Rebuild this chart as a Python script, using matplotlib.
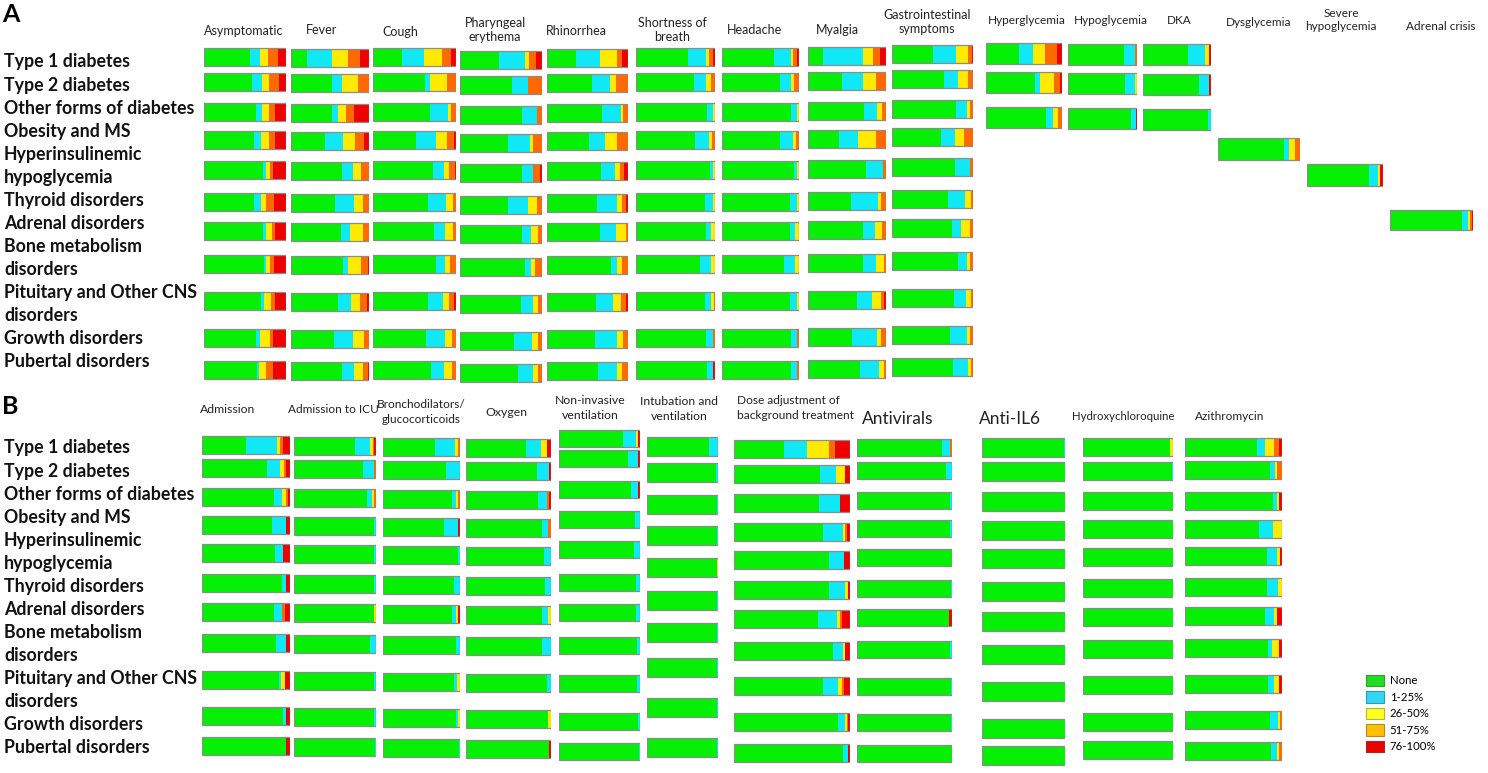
import numpy as np
import matplotlib
matplotlib.use("Agg")
import matplotlib.pyplot as plt
from matplotlib.patches import Patch

plt.rcParams['font.family'] = ['Lato', 'DejaVu Sans']

# Categorias (filas)
row_lines = ['Type 1 diabetes', 'Type 2 diabetes', 'Other forms of diabetes', 'Obesity and MS',
             'Hyperinsulinemic', 'hypoglycemia', 'Thyroid disorders', 'Adrenal disorders',
             'Bone metabolism', 'disorders', 'Pituitary and Other CNS', 'disorders',
             'Growth disorders', 'Pubertal disorders']
levels = ['None', '1-25%', '26-50%', '51-75%', '76-100%']
bar_colors = ['#05F005', '#10E8F5', '#FFEA00', '#FF6A00', '#EE0000']
legend_colors = ['#22DD22', '#33D6F0', '#FFFF22', '#FFC000', '#EE0000']
legend_edges = ['#2f9f2f', '#3399bb', '#b5b533', '#b58a2a', '#a02a2a']

# ---- Panel A: sintomas (None, 1-25, 26-50, 51-75, 76-100) ----
asymptomatic = [[56, 12, 10, 12, 10], [59, 12, 8, 12, 9], [64, 7, 8, 8, 13], [61, 8, 10, 7, 14],
                [72, 4, 4, 4, 16], [61, 8, 7, 9, 15], [72, 4, 7, 4, 13], [73, 3, 4, 5, 15],
                [69, 4, 9, 5, 13], [63, 5, 12, 4, 16], [65, 2, 8, 9, 16]]
fever = [[21, 31, 21, 16, 11], [52, 14, 20, 14, 0], [53, 7, 11, 10, 19], [43, 24, 15, 11, 7],
         [65, 14, 11, 10, 0], [57, 24, 11, 8, 0], [64, 11, 17, 8, 0], [67, 6, 17, 9, 1],
         [60, 17, 11, 9, 3], [55, 25, 14, 6, 0], [66, 15, 11, 7, 1]]
cough = [[35, 26, 22, 11, 6], [63, 6, 20, 11, 0], [69, 21, 4, 6, 0], [52, 24, 13, 8, 3],
         [72, 14, 6, 7, 1], [66, 22, 8, 4, 0], [73, 14, 9, 4, 0], [76, 11, 6, 7, 0],
         [66, 18, 8, 5, 3], [64, 23, 8, 5, 0], [70, 16, 9, 5, 0]]
pharyngeal = [[48, 31, 5, 9, 7], [63, 20, 0, 17, 0], [75, 19, 0, 6, 0], [59, 26, 4, 11, 0],
              [75, 14, 0, 8, 3], [59, 24, 11, 6, 0], [75, 12, 8, 5, 0], [79, 7, 6, 8, 0],
              [74, 15, 6, 5, 0], [66, 22, 7, 5, 0], [71, 18, 6, 5, 0]]
rhinorrhea = [[36, 29, 21, 7, 7], [55, 23, 7, 15, 0], [68, 23, 3, 6, 0], [52, 20, 14, 14, 0],
              [67, 17, 6, 5, 5], [62, 24, 6, 5, 3], [66, 19, 12, 3, 0], [79, 7, 6, 8, 0],
              [60, 21, 10, 6, 3], [59, 27, 8, 6, 0], [63, 23, 7, 7, 0]]
breath = [[66, 22, 4, 6, 2], [74, 15, 6, 5, 0], [90, 7, 3, 0, 0], [75, 18, 3, 4, 0],
          [94, 4, 2, 0, 0], [87, 11, 2, 0, 0], [89, 6, 5, 0, 0], [81, 14, 5, 0, 0],
          [87, 8, 4, 1, 0], [89, 8, 0, 3, 0], [90, 7, 0, 1, 2]]
headache = [[67, 22, 3, 5, 3], [75, 14, 5, 6, 0], [90, 7, 3, 0, 0], [75, 17, 4, 4, 0],
            [94, 4, 2, 0, 0], [88, 10, 2, 0, 0], [88, 7, 5, 0, 0], [81, 14, 5, 0, 0],
            [88, 9, 3, 0, 0], [89, 8, 0, 3, 0], [90, 7, 0, 3, 0]]
myalgia = [[19, 52, 12, 9, 8], [44, 26, 17, 13, 0], [72, 16, 7, 5, 0], [40, 24, 23, 13, 0],
           [74, 22, 0, 4, 0], [55, 35, 4, 6, 0], [70, 16, 9, 5, 0], [71, 16, 10, 3, 0],
           [63, 19, 12, 3, 3], [57, 31, 6, 6, 0], [67, 24, 6, 3, 0]]
gastro = [[50, 29, 15, 5, 1], [64, 17, 13, 6, 0], [79, 14, 3, 4, 0], [60, 18, 11, 11, 0],
          [78, 18, 0, 4, 0], [69, 21, 8, 2, 0], [74, 11, 11, 4, 0], [82, 11, 3, 4, 0],
          [77, 14, 6, 3, 0], [72, 21, 3, 4, 0], [75, 19, 3, 3, 0]]
hyperglycemia = [[44, 18, 15, 17, 6], [64, 7, 18, 9, 2], [79, 9, 7, 5, 0]]
hypoglycemia = [[81, 16, 0, 3, 0], [82, 15, 3, 0, 0], [91, 7, 0, 0, 2]]
dka = [[66, 25, 6, 0, 3], [82, 15, 0, 0, 3], [96, 4, 0, 0, 0]]
dysglycemia = [[80, 7, 7, 6, 0]]
severe_hypo = [[82, 11, 3, 0, 4]]
adrenal_crisis = [[87, 7, 2, 3, 1]]

# ---- Panel B: tratamiento ----
admission = [[50, 35, 4, 3, 8], [74, 15, 4, 2, 5], [82, 9, 4, 3, 2], [80, 16, 0, 0, 4],
             [83, 9, 0, 0, 8], [91, 5, 0, 0, 4], [82, 9, 0, 3, 6], [84, 12, 0, 0, 4],
             [88, 2, 4, 0, 6], [92, 4, 0, 0, 4], [95, 0, 0, 0, 5]]
icu = [[74, 19, 3, 2, 2], [84, 13, 0, 3, 0], [89, 6, 2, 3, 0], [97, 3, 0, 0, 0],
       [98, 2, 0, 0, 0], [97, 3, 0, 0, 0], [97, 1, 2, 0, 0], [93, 7, 0, 0, 0],
       [97, 3, 0, 0, 0], [98, 2, 0, 0, 0], [99, 1, 0, 0, 0]]
broncho = [[67, 26, 5, 2, 0], [82, 18, 0, 0, 0], [90, 5, 3, 2, 0], [79, 18, 0, 0, 3],
           [97, 3, 0, 0, 0], [92, 8, 0, 0, 0], [90, 5, 2, 0, 3], [95, 5, 0, 0, 0],
           [92, 4, 4, 0, 0], [95, 2, 3, 0, 0], [99, 1, 0, 0, 0]]
oxygen = [[71, 17, 7, 0, 5], [83, 15, 0, 0, 2], [85, 10, 0, 3, 2], [89, 8, 0, 3, 0],
          [92, 8, 0, 0, 0], [93, 7, 0, 0, 0], [89, 8, 3, 0, 0], [89, 11, 0, 0, 0],
          [95, 5, 0, 0, 0], [96, 1, 3, 0, 0], [98, 0, 0, 0, 2]]
niv = [[79, 16, 2, 0, 3], [85, 12, 0, 0, 3], [89, 8, 0, 0, 3], [94, 6, 0, 0, 0],
       [92, 8, 0, 0, 0], [95, 5, 0, 0, 0], [95, 5, 0, 0, 0], [96, 4, 0, 0, 0],
       [96, 4, 0, 0, 0], [97, 3, 0, 0, 0], [99, 1, 0, 0, 0]]
intubation = [[87, 13, 0, 0, 0], [97, 3, 0, 0, 0], [98, 2, 0, 0, 0], [98, 2, 0, 0, 0],
              [98, 1, 1, 0, 0], [98, 2, 0, 0, 0], [99, 1, 0, 0, 0], [99, 1, 0, 0, 0],
              [98, 2, 0, 0, 0], [98, 2, 0, 0, 0]]
dose = [[43, 20, 19, 5, 13], [74, 14, 8, 0, 4], [73, 18, 0, 0, 9], [77, 17, 2, 1, 3],
        [82, 13, 0, 0, 5], [82, 14, 2, 0, 2], [72, 17, 2, 2, 7], [85, 9, 2, 0, 4],
        [77, 13, 3, 2, 5], [90, 6, 1, 1, 2], [94, 4, 0, 0, 2]]
antivirals = [[89, 9, 0, 2, 0], [94, 6, 0, 0, 0], [98, 2, 0, 0, 0], [98, 2, 0, 0, 0],
              [100, 0, 0, 0, 0], [99, 1, 0, 0, 0], [97, 0, 0, 0, 3], [98, 2, 0, 0, 0],
              [99, 1, 0, 0, 0], [99, 1, 0, 0, 0], [100, 0, 0, 0, 0]]
anti_il6 = [[99, 1, 0, 0, 0]] + [[100, 0, 0, 0, 0]] * 10
hydroxy = [[97, 0, 3, 0, 0], [99, 1, 0, 0, 0]] + [[100, 0, 0, 0, 0]] * 9
azithro = [[74, 8, 10, 5, 3], [88, 5, 2, 5, 0], [91, 4, 2, 0, 3], [76, 15, 9, 0, 0],
           [85, 10, 3, 0, 2], [85, 11, 4, 0, 0], [82, 10, 3, 0, 5], [86, 4, 7, 0, 3],
           [86, 6, 5, 0, 3], [88, 8, 2, 2, 0], [89, 6, 2, 3, 0]]

# ---- layout (pixeles de la figura) ----
W, H = 1488, 773
rows_a = np.array([57, 82, 112, 140, 170, 202, 231, 264, 301, 338, 370])
rows_b = np.array([445, 468, 497, 525, 553, 583, 612, 643, 680, 716, 746])

# (titulo, datos, x0, x1, filas_y, alto, titulo_x, titulo_y, alineacion, tamano)
cols_a = [
    ('Asymptomatic', asymptomatic, 204, 286, rows_a, 18, 204, 31, 'left', 9),
    ('Fever', fever, 291, 369, rows_a + 1, 18, 322, 30, 'center', 9),
    ('Cough', cough, 373, 456, rows_a, 18, 400, 32, 'center', 9),
    ('Pharyngeal\nerythema', pharyngeal, 460, 542, rows_a + 3, 18, 495, 30, 'center', 9),
    ('Rhinorrhea', rhinorrhea, 547, 628, rows_a + 1, 18, 576, 31, 'center', 9),
    ('Shortness of\nbreath', breath, 636, 715, rows_a, 18, 672, 30, 'center', 9),
    ('Headache', headache, 722, 799, rows_a, 18, 754, 30, 'center', 9),
    ('Myalgia', myalgia, 808, 886, rows_a - 1, 18, 837, 30, 'center', 9),
    ('Gastrointestinal\nsymptoms', gastro, 892, 973, rows_a - 3, 18, 927, 22, 'center', 9),
    ('Hyperglycemia', hyperglycemia, 986, 1062, [53, 82, 117], 21, 1027, 21, 'center', 8.5),
    ('Hypoglycemia', hypoglycemia, 1068, 1137, [54, 83, 118], 21, 1111, 21, 'center', 8.5),
    ('DKA', dka, 1143, 1211, [54, 84, 119], 21, 1179, 21, 'center', 8.5),
    ('Dysglycemia', dysglycemia, 1218, 1300, [149], 22, 1259, 22, 'center', 8.5),
    ('Severe\nhypoglycemia', severe_hypo, 1307, 1383, [175], 22, 1341, 20, 'center', 8.5),
    ('Adrenal crisis', adrenal_crisis, 1390, 1473, [220], 20, 1441, 27, 'center', 8.5),
]
cols_b = [
    ('Admission', admission, 202, 290, rows_b, 18, 228, 410, 'center', 8.8),
    ('Admission to ICU', icu, 294, 376, rows_b + 1, 18, 333, 410, 'center', 8.6),
    ('Bronchodilators/\nglucocorticoids', broncho, 383, 460, rows_b + 2, 18, 421, 412, 'center', 8.6),
    ('Oxygen', oxygen, 466, 551, rows_b + 3, 18, 506, 412, 'center', 8.8),
    ('Non-invasive\nventilation', niv, 559, 640,
     [438, 458, 489, 519, 549, 582, 612, 645, 683, 721, 751], 17, 590, 408, 'center', 8.8),
    ('Intubation and\nventilation', intubation, 647, 718,
     [446, 472, 504, 535, 567, 600, 632, 667, 707, 747], 19, 679, 409, 'center', 8.8),
    ('Dose adjustment of\nbackground treatment', dose, 734, 850,
     [449, 474, 503, 532, 560, 590, 619, 651, 686, 722, 753], 18, 737, 408, 'left', 8.6),
    ('Antivirals', antivirals, 857, 952,
     [447, 470, 500, 528, 557, 588, 617, 649, 686, 722, 753], 17, 898, 419, 'center', 12.5),
    ('Anti-IL6', anti_il6, 982, 1065,
     [447, 471, 501, 530, 558, 591, 621, 654, 691, 728, 755], 19, 1010, 419, 'center', 12.5),
    ('Hydroxychloroquine', hydroxy, 1083, 1173,
     [447, 471, 501, 529, 557, 588, 617, 649, 685, 722, 750], 18, 1123, 417, 'center', 8.2),
    ('Azithromycin', azithro, 1185, 1282,
     [447, 470, 501, 529, 556, 587, 616, 648, 684, 720, 751], 18, 1230, 417, 'center', 8.6),
]


def dibuja_columna(fig, datos, x0, x1, filas_y, alto):
    ax = fig.add_axes([x0 / W, 0, (x1 - x0) / W, 1])
    ax.set_xlim(0, 100)
    ax.set_ylim(H, 0)
    ax.axis('off')
    vals = np.array(datos, dtype=float)
    vals = vals / vals.sum(axis=1, keepdims=True) * 100
    izq = np.zeros(len(vals))
    for k in range(5):
        ax.barh(filas_y, vals[:, k], left=izq, height=alto, color=bar_colors[k], linewidth=0)
        izq += vals[:, k]
    ax.barh(filas_y, izq, height=alto, fill=False, edgecolor='#8c8c8c', linewidth=0.9)


def fx(x):
    return x / W


def fy(y):
    return 1 - y / H


fig = plt.figure(figsize=(W / 100, H / 100), dpi=100)

for titulo, datos, x0, x1, filas, alto, tx, ty, ha, fs in cols_a:
    dibuja_columna(fig, datos, x0, x1, filas, alto)
    fig.text(fx(tx), fy(ty), titulo, ha=ha, va='center', fontsize=fs, linespacing=1.2,
             color='#222222')

for titulo, datos, x0, x1, filas, alto, tx, ty, ha, fs in cols_b:
    dibuja_columna(fig, datos, x0, x1, filas, alto)
    fig.text(fx(tx), fy(ty), titulo, ha=ha, va='center', fontsize=fs, linespacing=1.4,
             color='#222222')

# etiquetas de filas
for y0, letra, ly in [(62, 'A', 15), (448, 'B', 407)]:
    fig.text(fx(2), fy(ly), letra, fontsize=18, fontweight='bold', va='center', ha='left')
    for i, linea in enumerate(row_lines):
        fig.text(fx(4), fy(y0 + i * 23.05), linea, fontsize=12.8, fontweight='bold',
                 va='center', ha='left', color='#111111')

# leyenda
handles = [Patch(facecolor=c, edgecolor=e, linewidth=0.8) for c, e in zip(legend_colors, legend_edges)]
fig.legend(handles, levels, loc='upper left', bbox_to_anchor=(fx(1360), fy(669)), frameon=False,
           fontsize=8.2, handlelength=1.6, handleheight=1.2, labelspacing=0.42, handletextpad=0.5,
           borderpad=0)

fig.savefig('out.png', dpi=100, facecolor='white')
